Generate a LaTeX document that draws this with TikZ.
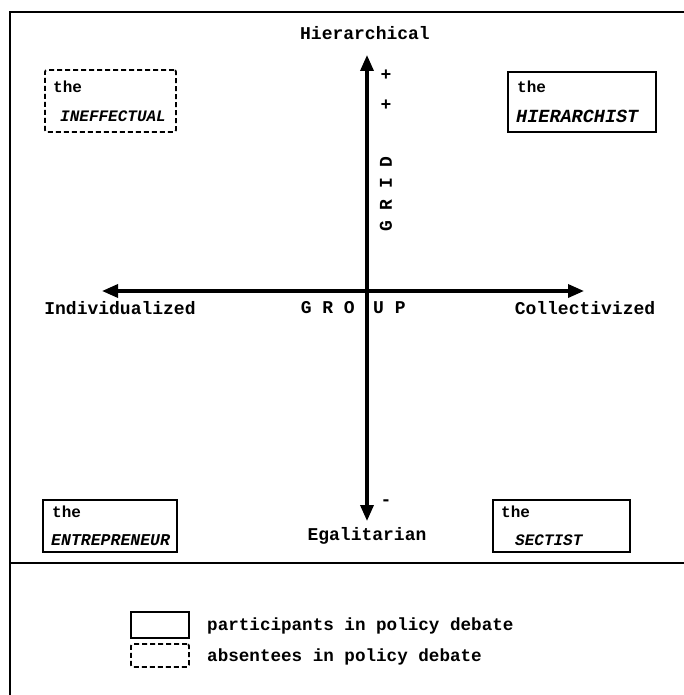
\documentclass[tikz,border=0pt]{standalone}
\usepackage{fontspec}
\setmainfont{Liberation Mono}
\usetikzlibrary{arrows.meta}
\begin{document}
\begin{tikzpicture}[x=1pt,y=-1pt,
  lbl/.style={font=\bfseries\fontsize{18}{20}\selectfont, inner sep=0pt},
  keytext/.style={font=\bfseries\fontsize{17.6}{20}\selectfont, inner sep=0pt, anchor=west},
  typename/.style={font=\bfseries\itshape\fontsize{16}{18}\selectfont, inner sep=0pt, anchor=west},
  art/.style={font=\bfseries\fontsize{16}{18}\selectfont, inner sep=0pt, anchor=west},
  axis/.style={line width=3.4pt, -{Triangle[width=13pt,length=16pt]}},
  solidbox/.style={draw, line width=1.8pt},
  dashbox/.style={draw, line width=1.8pt, dashed, dash pattern=on 5pt off 3pt, rounded corners=2pt}]
\useasboundingbox (0,0) rectangle (684,695);

% frame: top and left rules only
\draw[line width=1.8pt] (684,12) -- (10,12) -- (10,695);
% rule above the key
\coordinate (ruleL) at (10,563);
\coordinate (ruleR) at (684,563);
\draw[line width=1.8pt] (ruleL) -- (ruleR);

% axes
\coordinate (O) at (367,291);
\coordinate (top) at (367,55);
\coordinate (bot) at (367,521);
\coordinate (left) at (102,291);
\coordinate (right) at (584,291);
\draw[axis] (O) -- (top);
\draw[axis] (O) -- (bot);
\draw[axis] (O) -- (left);
\draw[axis] (O) -- (right);

% axis labels
\node[lbl] (hier) at (365,33) {Hierarchical};
\node[lbl] (egal) at (367,536) {Egalitarian};
\node[lbl] (indiv) at (120,308) {Individualized};
\node[lbl] (coll) at (585,308) {Collectivized};
\node[lbl, anchor=east] (gro) at (355,308) {G R O};
\node[lbl, anchor=west] (up) at (373,308) {U P};
\node[lbl, rotate=90] (grid) at (386,194) {G R I D};
\node[lbl] (p1) at (386,75) {+};
\node[lbl] (p2) at (386,105) {+};
\node[lbl] (m1) at (386,503) {-};

% cultural types
\node[dashbox, minimum width=131pt, minimum height=62pt] (ineff) at (110.5,101) {};
\node[art] (ineffA) at (53,87) {the};
\node[typename] (ineffB) at (60,116) {INEFFECTUAL};

\node[solidbox, minimum width=148pt, minimum height=60pt] (hierarch) at (582,102) {};
\node[art] (hierA) at (517,87) {the};
\node[typename, font=\bfseries\itshape\fontsize{18.5}{20}\selectfont] (hierB) at (516,116) {HIERARCHIST};

\node[solidbox, minimum width=134pt, minimum height=52pt] (entre) at (110,526) {};
\node[art] (entreA) at (52,512) {the};
\node[typename, font=\bfseries\itshape\fontsize{16.5}{18}\selectfont] (entreB) at (51,540) {ENTREPRENEUR};

\node[solidbox, minimum width=137pt, minimum height=52pt] (sect) at (561.5,526) {};
\node[art] (sectA) at (501,512) {the};
\node[typename] (sectB) at (515,540) {SECTIST};

% key
\node[solidbox, minimum width=58pt, minimum height=26pt] (keyA) at (160,625) {};
\node[keytext] (keyAt) at (207,626) {participants in policy debate};
\node[dashbox, minimum width=58pt, minimum height=23pt] (keyB) at (160,655.5) {};
\node[keytext] (keyBt) at (207,657) {absentees in policy debate};
\end{tikzpicture}
\end{document}
